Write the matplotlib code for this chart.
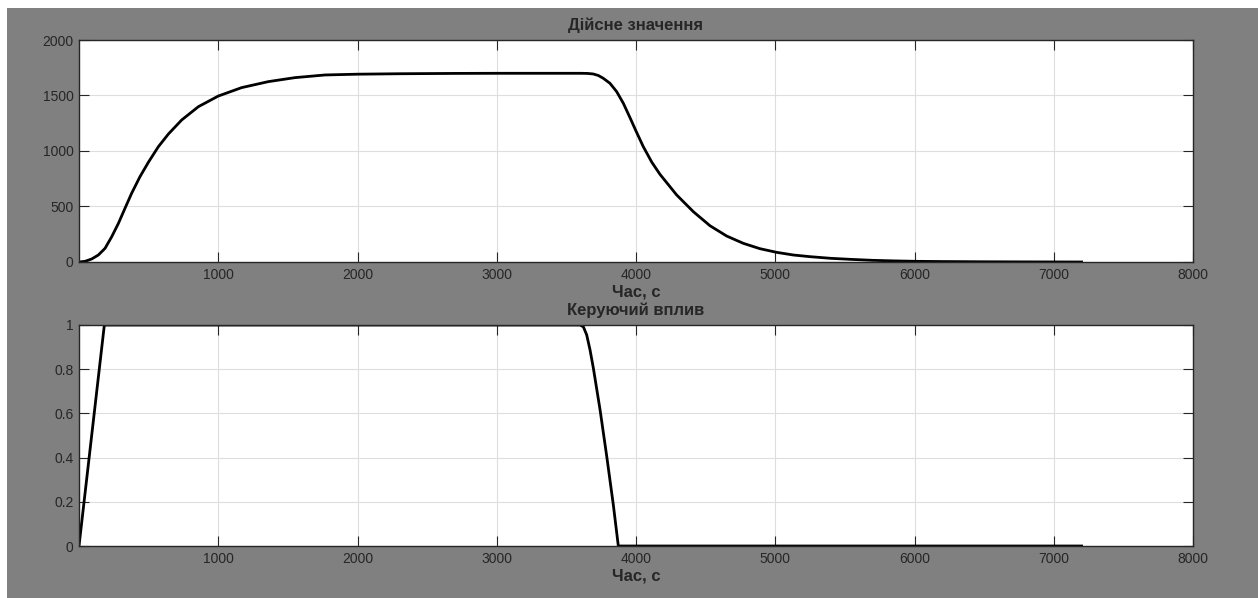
import numpy as np
import matplotlib
matplotlib.use("Agg")
import matplotlib.pyplot as plt
from matplotlib.patches import Rectangle

plt.rcParams['font.family'] = ['Liberation Sans', 'DejaVu Sans']

t_actual = [0, 43, 91, 139, 187, 235, 283, 330, 378, 438, 498, 570, 642, 737, 857,
            1000, 1168, 1360, 1551, 1767, 2000, 2300, 2700, 3000, 3600, 3650,
            3693, 3730, 3765, 3813, 3861, 3909, 3957, 4000, 4052, 4113, 4172, 4292,
            4412, 4531, 4651, 4771, 4890, 5010, 5130, 5250, 5400, 5537, 5700, 5850,
            6015, 6200, 6500, 6800, 7200]
v_actual = [0, 6, 27, 63, 123, 228, 348, 483, 619, 769, 898, 1039, 1153, 1279, 1399,
            1495, 1571, 1625, 1661, 1685, 1692, 1696, 1699, 1700, 1700, 1699,
            1694, 1680, 1655, 1610, 1535, 1430, 1300, 1180, 1040, 900, 790, 604,
            453, 327, 234, 168, 120, 87, 63, 48, 33, 24, 15, 10,
            6, 4, 2, 1, 0]

# control action (bottom plot)
t_control = [0, 182, 3598, 3622, 3646, 3670, 3694, 3742, 3790, 3837, 3873, 7200]
u_control = [0, 1, 1, 0.992, 0.955, 0.887, 0.804, 0.616, 0.405, 0.187, 0, 0]

W, H = 1258, 598
fig = plt.figure(figsize=(W/100, H/100), dpi=100, facecolor='white')
fig.patches.append(Rectangle((7/W, 0), 1, 1 - 8/H, transform=fig.transFigure,
                             facecolor='#808080', edgecolor='none', zorder=-10))

left = 79/W
width = (1193 - 79)/W
ax1 = fig.add_axes([left, 1 - 262/H, width, (262 - 40)/H])
ax2 = fig.add_axes([left, 1 - 546/H, width, (546 - 325)/H])

txt = '#262626'
for ax in (ax1, ax2):
    ax.set_facecolor('white')
    ax.grid(True, color='#dedede', linewidth=0.8)
    ax.set_axisbelow(True)
    ax.set_xlim(0, 8000)
    ax.set_xticks(range(1000, 8001, 1000))
    ax.tick_params(direction='in', length=7, width=0.8, colors=txt, labelsize=10,
                   top=True, right=True, labelcolor=txt, pad=4)
    for s in ax.spines.values():
        s.set_color('#262626')
        s.set_linewidth(1)
    ax.set_xlabel('Час, с', fontsize=12, fontweight='bold', color=txt, labelpad=2)

ax1.plot(t_actual, v_actual, color='black', linewidth=2, solid_joinstyle='round')
ax1.set_ylim(0, 2000)
ax1.set_yticks(range(0, 2001, 500))
ax1.set_title('Дійсне значення', fontsize=12, fontweight='bold', color=txt, pad=7)

ax2.plot(t_control, u_control, color='black', linewidth=2, solid_joinstyle='round')
ax2.set_ylim(0, 1)
ax2.set_yticks([0, 0.2, 0.4, 0.6, 0.8, 1])
ax2.set_yticklabels(['0', '0.2', '0.4', '0.6', '0.8', '1'])
ax2.set_title('Керуючий вплив', fontsize=12, fontweight='bold', color=txt, pad=7)

fig.savefig('out.png', dpi=100, facecolor=fig.get_facecolor())
